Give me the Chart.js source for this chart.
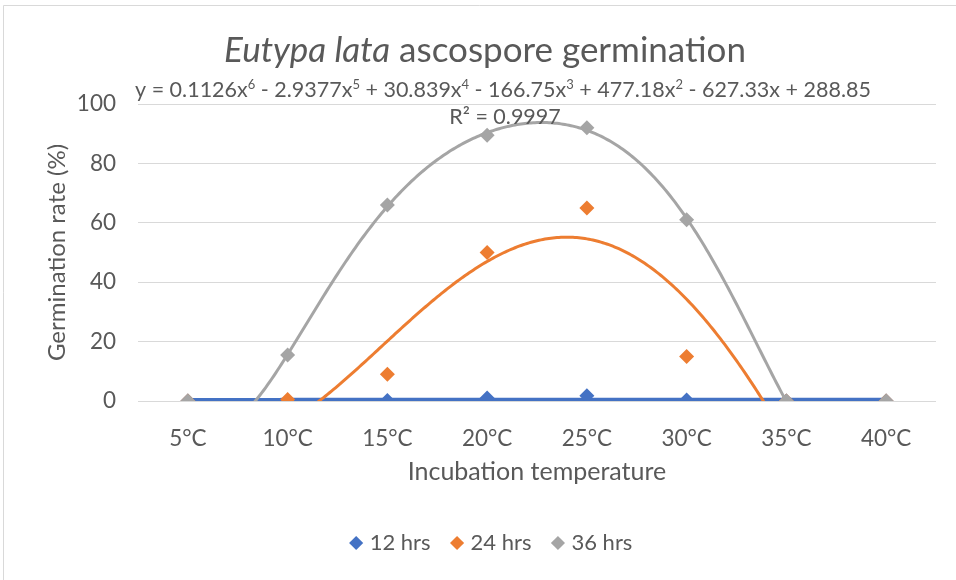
<!DOCTYPE html>
<html>
<head>
<meta charset="utf-8">
<title>Eutypa lata ascospore germination</title>
<script src="https://cdn.jsdelivr.net/npm/chart.js"></script>
<style>
  body { margin: 0; background: #fff; }
  #wrap { width: 956px; height: 580px; }
</style>
</head>
<body>
<div id="wrap"><canvas id="chart" width="956" height="580"></canvas></div>
<script>
// data
const temps = ['5°C', '10°C', '15°C', '20°C', '25°C', '30°C', '35°C', '40°C'];
const hrs12 = [0, 0, 0.2, 1, 1.8, 0.3, 0, 0];
const hrs24 = [0, 0.5, 9, 50, 65, 15, 0, 0];
const hrs36 = [0, 15.5, 66, 89.5, 92, 61, 0, 0];
const seriesNames = ['12 hrs', '24 hrs', '36 hrs'];
const yTicks = [0, 20, 40, 60, 80, 100];

// trendline equation printed on the chart for 36 hrs (constant term first)
const fit36 = [288.85, -627.33, 477.18, -166.75, 30.839, -2.9377, 0.1126];
const r2_36 = '0.9997';
// the 24 hrs trendline (x in category units, 1 = 5°C)
const trend24x = [2.32, 3, 4, 4.72, 5, 6, 6.77];
const trend24y = [0, 20.5, 46.4, 55.3, 54.9, 34, 0];

const titleItalic = 'Eutypa lata';
const titleRest = ' ascospore germination';
const xTitle = 'Incubation temperature';
const yTitle = 'Germination rate (%)';

const FONT = 'Lato';
const TEXT = '#595959';
const colors = ['#4472c4', '#ed7d31', '#a5a5a5'];

// least squares polynomial, fitted around x = 4.5 to keep the numbers sane
const MID = 4.5;
function polyFit(xs, ys, order) {
  const n = order + 1;
  const A = [], b = [];
  for (let i = 0; i < n; i++) {
    A.push(new Array(n).fill(0));
    b.push(0);
  }
  ys.forEach((y, k) => {
    const t = xs[k] - MID;
    for (let i = 0; i < n; i++) {
      b[i] += y * Math.pow(t, i);
      for (let j = 0; j < n; j++) A[i][j] += Math.pow(t, i + j);
    }
  });
  for (let i = 0; i < n; i++) {
    let p = i;
    for (let r = i + 1; r < n; r++) if (Math.abs(A[r][i]) > Math.abs(A[p][i])) p = r;
    [A[i], A[p]] = [A[p], A[i]];
    [b[i], b[p]] = [b[p], b[i]];
    for (let r = i + 1; r < n; r++) {
      const f = A[r][i] / A[i][i];
      for (let c = i; c < n; c++) A[r][c] -= f * A[i][c];
      b[r] -= f * b[i];
    }
  }
  const coef = new Array(n).fill(0);
  for (let i = n - 1; i >= 0; i--) {
    let s = b[i];
    for (let c = i + 1; c < n; c++) s -= A[i][c] * coef[c];
    coef[i] = s / A[i][i];
  }
  return coef;
}

// sample a fitted polynomial across the data range (x = 1..n, like excel)
function polyPoints(coef, count) {
  const pts = [];
  for (let k = 0; k <= (count - 1) * 50; k++) {
    const x = 1 + k / 50;
    let y = 0;
    coef.forEach((c, i) => { y += c * Math.pow(x - MID, i); });
    pts.push({ x: x, y: y });
  }
  return pts;
}

const catX = temps.map((t, i) => i + 1);
const toXY = arr => arr.map((v, i) => ({ x: catX[i], y: v }));

// equation text pieces, superscripts flagged
const eqParts = [['y = ', false]];
for (let p = fit36.length - 1; p >= 0; p--) {
  const c = fit36[p];
  let s = p === fit36.length - 1 ? String(c) : (c < 0 ? ' - ' : ' + ') + String(Math.abs(c));
  if (p >= 1) s += 'x';
  eqParts.push([s, false]);
  if (p >= 2) eqParts.push([String(p), true]);
}

const excelText = {
  id: 'excelText',
  afterLayout(chart) {
    // excel centres the legend on a slightly wider frame
    chart.legend.left += 25;
    chart.legend.right += 25;
  },
  beforeDraw(chart) {
    const c = chart.ctx;
    c.save();
    c.fillStyle = '#fff';
    c.fillRect(0, 0, chart.width, chart.height);
    c.strokeStyle = '#d9d9d9';
    c.lineWidth = 1;
    c.beginPath();
    c.moveTo(3.5, chart.height);
    c.lineTo(3.5, 5.5);
    c.lineTo(chart.width, 5.5);
    c.stroke();
    c.restore();
  },
  afterDraw(chart) {
    const c = chart.ctx;
    c.save();
    c.fillStyle = TEXT;
    c.textBaseline = 'alphabetic';
    c.textAlign = 'left';

    // title, first two words in italics
    const tf = '35px ' + FONT;
    c.font = 'italic ' + tf;
    const w1 = c.measureText(titleItalic).width;
    c.font = tf;
    const w2 = c.measureText(titleRest).width;
    let x = 485 - (w1 + w2) / 2;
    c.font = 'italic ' + tf;
    c.fillText(titleItalic, x, 62);
    c.font = tf;
    c.fillText(titleRest, x + w1, 62);

    // trendline label
    const base = '21.5px ' + FONT, sup = '13px ' + FONT;
    let total = 0;
    eqParts.forEach(([s, up]) => {
      c.font = up ? sup : base;
      total += c.measureText(s).width;
    });
    x = 503 - total / 2;
    eqParts.forEach(([s, up]) => {
      c.font = up ? sup : base;
      c.fillText(s, x, up ? 89 : 97);
      x += c.measureText(s).width;
    });
    c.font = base;
    c.textAlign = 'center';
    c.fillText('R² = ' + r2_36, 505, 124);
    c.restore();
  }
};

const pointSet = (label, data, color, order) => ({
  type: 'scatter',
  label: label,
  data: toXY(data),
  showLine: false,
  pointStyle: 'rectRot',
  pointRadius: 7.5,
  pointHoverRadius: 7.5,
  pointBorderWidth: 0,
  backgroundColor: color,
  borderColor: color,
  order: order
});

const trendSet = (label, pts, color, width, order) => ({
  type: 'line',
  label: label,
  data: pts,
  borderColor: color,
  borderWidth: width,
  pointRadius: 0,
  tension: 0,
  fill: false,
  order: order
});

new Chart(document.getElementById('chart'), {
  data: {
    datasets: [
      pointSet(seriesNames[0], hrs12, colors[0], 5),
      pointSet(seriesNames[1], hrs24, colors[1], 4),
      pointSet(seriesNames[2], hrs36, colors[2], 3),
      trendSet('trend 12', polyPoints(polyFit(catX, hrs12, 1), temps.length), colors[0], 4, 6),
      trendSet('trend 24', polyPoints(polyFit(trend24x, trend24y, 4), temps.length), colors[1], 3, 2),
      trendSet('trend 36', polyPoints(polyFit(catX, hrs36, 6), temps.length), colors[2], 3, 1)
    ]
  },
  options: {
    responsive: false,
    animation: false,
    events: [],
    layout: { padding: { top: 104, right: 20, left: 0, bottom: 16 } },
    plugins: {
      tooltip: { enabled: false },
      title: { display: false },
      legend: {
        position: 'bottom',
        labels: {
          usePointStyle: true,
          pointStyle: 'rectRot',
          boxWidth: 5,
          boxHeight: 10,
          padding: 24,
          color: TEXT,
          font: { family: FONT, size: 22 },
          filter: item => item.datasetIndex < 3,
          sort: (a, b) => a.datasetIndex - b.datasetIndex
        }
      }
    },
    scales: {
      x: {
        type: 'linear',
        min: 0.5,
        max: catX.length + 0.5,
        afterFit: s => { s.height = 107; },
        afterBuildTicks: s => { s.ticks = catX.map(v => ({ value: v })); },
        grid: { display: false },
        border: { display: false },
        ticks: {
          autoSkip: false,
          maxRotation: 0,
          padding: 16,
          color: TEXT,
          font: { family: FONT, size: 22.5 },
          callback: v => temps[v - 1]
        },
        title: {
          display: true,
          text: xTitle,
          color: TEXT,
          font: { family: FONT, size: 25 },
          padding: { top: 0, bottom: 21 }
        }
      },
      y: {
        min: yTicks[0],
        max: yTicks[yTicks.length - 1],
        afterFit: s => { s.width = 138; },
        afterBuildTicks: s => { s.ticks = yTicks.map(v => ({ value: v })); },
        grid: { color: '#d9d9d9', lineWidth: 1, drawTicks: false },
        border: { display: false },
        ticks: {
          padding: 22,
          color: TEXT,
          font: { family: FONT, size: 22.5 }
        },
        title: {
          display: true,
          text: yTitle,
          color: TEXT,
          font: { family: FONT, size: 24 },
          padding: { top: 43, bottom: 0 }
        }
      }
    }
  },
  plugins: [excelText]
});
</script>
</body>
</html>
